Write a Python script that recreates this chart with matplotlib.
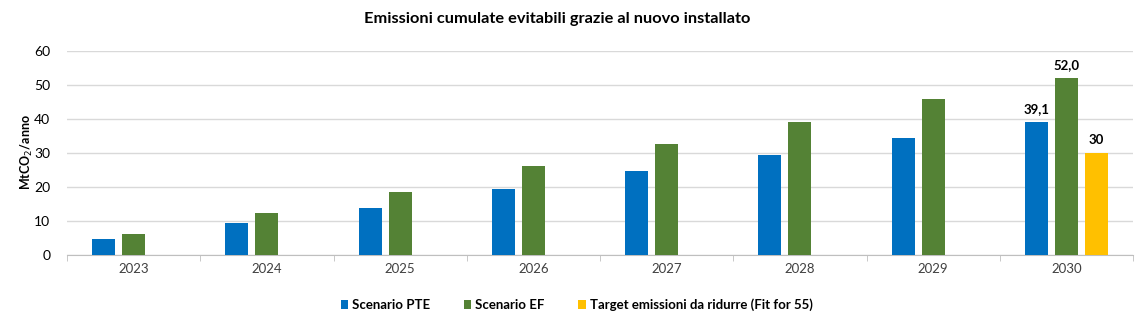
import matplotlib
matplotlib.use("Agg")
import matplotlib.pyplot as plt
import numpy as np

years = ["2023", "2024", "2025", "2026", "2027", "2028", "2029", "2030"]
pte = [4.7, 9.4, 13.8, 19.4, 24.7, 29.4, 34.4, 39.1]
ef = [6.2, 12.4, 18.5, 26.2, 32.6, 39.1, 45.9, 52.0]
target = [np.nan] * 7 + [30]
series_names = ["Scenario PTE", "Scenario EF", "Target emissioni da ridurre (Fit for 55)"]
colors = ["#0070C0", "#548235", "#FFC000"]

plt.rcParams['font.family'] = ['Lato', 'DejaVu Sans']

fig = plt.figure(figsize=(11.42, 3.24), dpi=100)
ax = fig.add_axes([67/1142, 69/324, (1133-67)/1142, 204/324])

x = np.arange(len(years))
w = 0.172
step = 0.225
for i, (vals, c, name) in enumerate(zip([pte, ef, target], colors, series_names)):
    ax.bar(x + (i - 1) * step, vals, width=w, color=c, label=name, zorder=3)

ax.set_ylim(0, 60)
ax.set_xlim(-0.5, len(years) - 0.5)
ax.set_yticks(range(0, 61, 10))
ax.set_xticks(x)
ax.set_xticklabels(years)
ax.set_xticks(np.arange(-0.5, len(years), 1), minor=True)
ax.tick_params(axis='x', which='major', length=0, labelsize=9.5, pad=6, colors='#404040')
ax.tick_params(axis='x', which='minor', length=4, color='#BFBFBF')
ax.tick_params(axis='y', length=0, labelsize=10, pad=12, colors='#404040')
for lab in ax.get_yticklabels():
    lab.set_color('#000000')
ax.yaxis.grid(True, color='#D9D9D9', linewidth=1, zorder=0)
for s in ['top', 'right', 'left']:
    ax.spines[s].set_visible(False)
ax.spines['bottom'].set_color('#BFBFBF')

ax.set_ylabel("MtCO$_2$/anno", fontsize=9, fontweight='bold')
ax.yaxis.set_label_coords((35 - 67) / 1066, (255 - 152) / 204)

fig.text(557/1142, 1 - 19/324, "Emissioni cumulate evitabili grazie al nuovo installato",
         fontsize=11.8, fontweight='bold', ha='center', va='center')

# data labels for 2030
labels = [(pte[-1], "39,1", -1), (ef[-1], "52,0", 0), (target[-1], "30", 1)]
for v, t, off in labels:
    ax.annotate(t, (x[-1] + off * step, v), xytext=(0, 5), textcoords='offset points',
                ha='center', va='bottom', fontsize=9.5, fontweight='bold')

leg = ax.legend(loc='upper center', bbox_to_anchor=(0.478, -0.155), ncol=3, frameon=False,
                handlelength=0.6, handleheight=0.6, handletextpad=0.3,
                columnspacing=2.5, prop={'weight': 'bold', 'size': 9.5})

fig.savefig("out.png", dpi=100)
